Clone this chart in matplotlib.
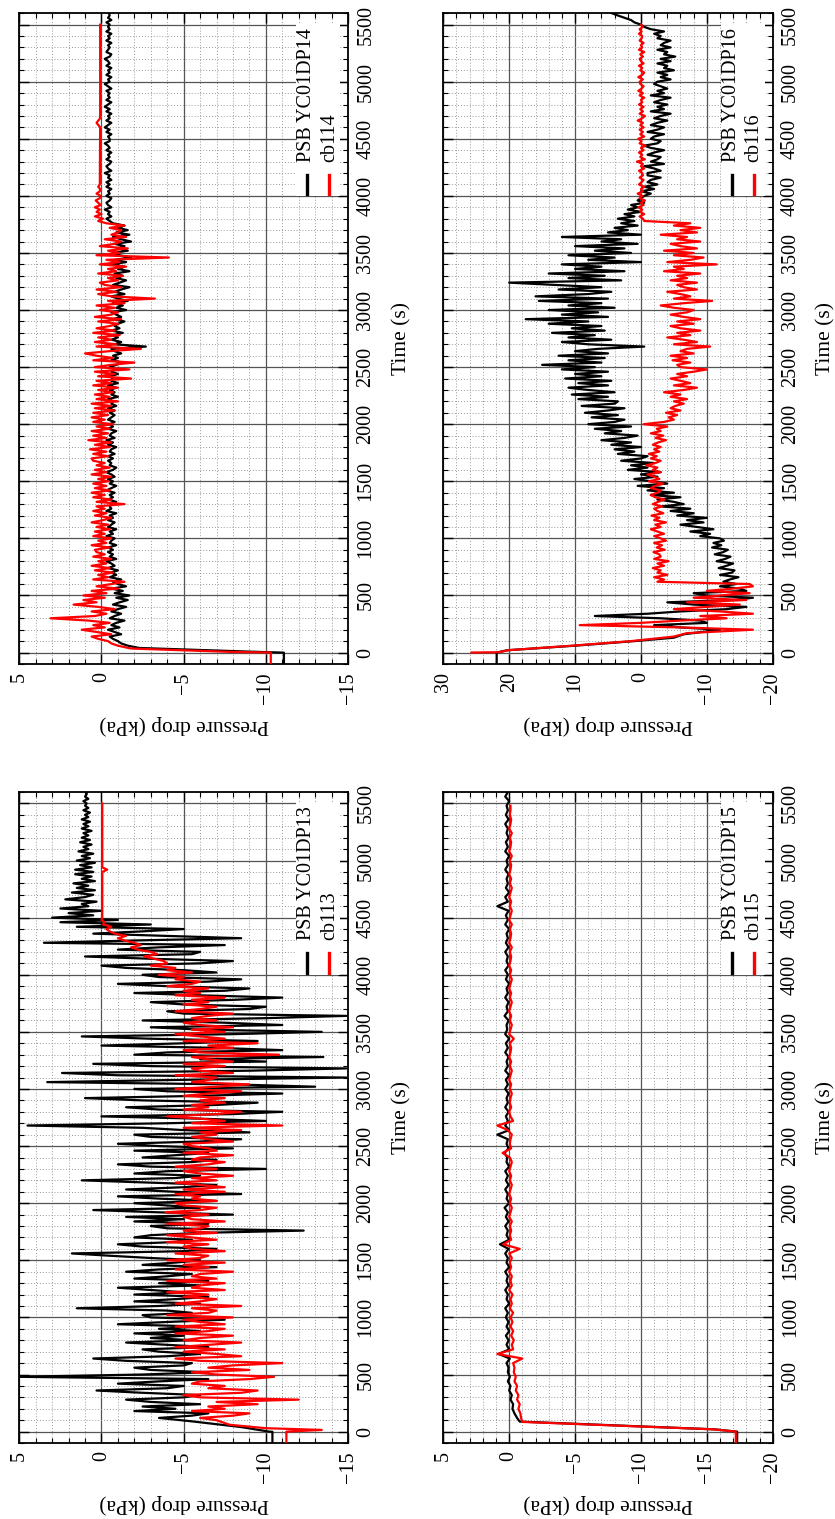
import matplotlib.pyplot as plt
import numpy as np
from matplotlib.patches import Rectangle
from matplotlib.ticker import MultipleLocator

plt.rcParams['font.family'] = ['Liberation Serif', 'DejaVu Serif']

# ---------------------------------------------------------------------------
# Data (time in s, pressure drop in kPa).
# Each trace = explicit head points + body sampled at a fixed step (+ tail)
# ---------------------------------------------------------------------------
time_ticks = [0, 500, 1000, 1500, 2000, 2500, 3000, 3500, 4000, 4500, 5000, 5500]

# --- YC01DP14 / cb114 (body every 20 s) ------------------------------------
dp14_head_t = [-100, -1, 0, 8, 40, 60, 80]
dp14_head_p = [-11.1, -11.1, -10.9, -9.0, -2.3, -1.6, -1.2]
dp14_body_start, dp14_step = 100, 20
dp14_body = [
    -1.0, -0.7, -0.5, -1.2, -0.8, -0.4, -1.1, -0.6, -0.9, -1.4, -0.5, -0.8, -1.2, -0.6, -1.0, -1.5, -0.7, -1.1, -1.6, -0.9,
    -1.7, -0.8, -1.3, -0.6, -1.5, -1.0, -0.7, -1.2, -0.5, -0.9, -0.6, -1.0, -0.4, -0.8, -0.6, -0.3, -0.9, -0.5, -0.7, -0.4,
    -0.7, -0.4, -0.9, -0.5, -0.6, -0.8, -0.3, -0.7, -0.5, -0.9, -0.4, -0.6, -0.8, -0.4, -0.7, -0.5, -0.9, -0.3, -0.6, -0.5,
    -0.6, -0.9, -0.4, -0.7, -0.5, -0.8, -0.3, -0.6, -0.9, -0.5, -0.7, -0.4, -0.8, -0.6, -0.3, -0.7, -0.9, -0.5, -0.6, -0.4,
    -0.7, -0.4, -0.8, -0.5, -0.6, -0.9, -0.4, -0.7, -0.3, -0.8, -0.5, -0.6, -0.9, -0.4, -0.7, -0.5, -0.8, -0.4, -0.6, -0.8,
    -0.5, -0.8, -0.4, -0.9, -0.6, -0.7, -0.4, -1.0, -0.6, -0.8, -0.5, -0.9, -0.4, -1.0, -0.6, -0.7, -0.5, -1.0, -0.6, -0.8,
    -0.5, -0.9, -1.3, -0.6, -1.0, -0.7, -1.2, -0.8, -0.6, -2.7, -0.8, -1.2, -0.6, -1.0, -0.7, -1.3, -0.6, -1.1, -0.8, -1.0,
    -1.4, -0.7, -1.2, -0.9, -0.6, -1.5, -0.9, -1.3, -0.7, -1.6, -1.0, -0.6, -1.4, -0.8, -1.2, -1.7, -0.7, -1.1, -1.5, -0.9,
    -1.3, -0.8, -1.7, -1.0, -1.4, -0.6, -1.5, -0.8, -1.8, -1.1, -0.7, -1.6, -1.0, -1.4, -0.8, -1.8, -1.2, -0.7, -1.7, -0.9,
    -1.6, -1.0, -1.4, -0.7, -0.5, -0.3, -0.6, -0.4, -0.5, -0.2, -0.6, -0.4, -0.3, -0.5, -0.6, -0.3, -0.5, -0.4, -0.6, -0.3,
    -0.5, -0.3, -0.6, -0.4, -0.5, -0.2, -0.6, -0.4, -0.3, -0.5, -0.6, -0.3, -0.5, -0.4, -0.6, -0.3, -0.5, -0.4, -0.2, -0.5,
    -0.5, -0.4, -0.6, -0.3, -0.5, -0.2, -0.4, -0.6, -0.3, -0.5, -0.4, -0.6, -0.3, -0.5, -0.2, -0.4, -0.6, -0.3, -0.5, -0.4,
    -0.5, -0.3, -0.6, -0.4, -0.2, -0.5, -0.4, -0.6, -0.3, -0.5, -0.4, -0.6, -0.3, -0.5, -0.4, -0.2, -0.5, -0.6, -0.3, -0.4,
    -0.5, -0.4, -0.6, -0.3, -0.5, -0.4, -0.6, -0.3, -0.5, -0.4, -0.5, -0.3, -0.6, -0.4, -0.5, -0.45,
]

cb114_head_t = [-100, -1, 0, 5, 35, 60, 80]
cb114_head_p = [-10.3, -10.3, -10.3, -8.0, -1.8, -1.0, -0.6]
cb114_body_start, cb114_step = 100, 20
cb114_body = [
    -0.4, 0.2, 0.6, -0.6, 0.3, 1.2, -0.2, 0.5, -0.5, 0.8, 3.1, 0.4, -0.3, 0.6, -0.8, 0.2, 1.7, 0.3, 1.1, -0.2,
    1.1, -0.3, 0.6, -1.0, 0.3, -0.6, -1.4, 0.5, -0.4, 0.2, -0.7, 0.4, -0.5, 0.6, -0.3, 0.2, -0.6, 0.5, -0.2, 0.3,
    0.4, -0.5, 0.6, -0.3, 0.2, -0.6, 0.5, -0.2, 0.4, -0.5, 0.3, -0.4, 0.6, -0.1, -0.6, 0.4, -0.3, 0.5, -0.2, 0.3,
    -1.4, 0.3, -0.6, 0.5, -0.2, 0.6, -0.5, 0.4, -0.3, 0.5, -0.4, 0.2, -0.6, 0.6, -0.3, 0.4, -0.5, 0.3, -0.2, 0.5,
    0.6, -0.4, 0.5, -0.3, 0.7, -0.5, 0.4, -0.6, 0.8, -0.3, 0.5, -0.4, 0.6, -0.5, 0.3, -0.7, 0.5, -0.2, 0.6, -0.4,
    0.5, -0.8, 0.4, -0.6, 0.6, -1.0, 0.3, -0.5, 0.4, -0.7, 0.2, -1.0, 0.5, -0.6, 0.3, -1.8, 0.2, -0.8, 0.4, -1.7,
    0.4, -0.6, -2.0, 0.5, -0.7, 0.3, 1.0, -0.5, -2.4, 0.3, -0.9, 0.4, -0.6, 0.2, -1.1, 0.5, -0.8, 0.3, -0.5, -1.0,
    0.2, -1.2, 0.4, -0.6, -1.0, 0.1, -0.8, 0.3, -1.4, -0.4, -3.25, -0.6, 0.2, -0.9, 0.3, -1.2, -0.2, 0.1, -1.0, -0.4,
    -1.3, 0.2, -0.9, -0.4, -1.5, 0.1, -1.1, -0.3, -4.1, 0.3, -1.1, -0.4, -1.6, 0.1, -0.8, -1.2, -0.2, -1.5, -0.6, -1.0,
    -1.2, -0.5, -1.4, -0.3, 0.2, -0.1, 0.4, 0.0, 0.3, 0.1, 0.4, 0.05, 0.2, 0.35, 0.1, 0.05, 0.3, 0.1, 0.08, 0.2,
]
cb114_tail_t = [4100, 4600, 4640, 4680, 5500]
cb114_tail_p = [0.1, 0.08, 0.3, 0.08, 0.08]

# --- YC01DP16 / cb116 (body every 20 s) ------------------------------------
dp16_head_t = [-100, 0, 20, 60, 100, 130, 160]
dp16_head_p = [21.9, 21.9, 20.3, 10.0, 1.0, -5.0, -6.5]
dp16_body_start, dp16_step = 200, 20
dp16_body = [
    -12.0, -6.0, -2.0, -10.0, -9.0, -3.0, 7.0, -1.0, -6.0, -13.0, -16.0, -8.0, -4.0, -14.0, -17.0, -10.0, -8.0, -16.0, -15.0, -12.0,
    -14.5, -12.5, -13.5, -14.8, -12.0, -13.8, -14.2, -11.8, -13.0, -14.0, -11.5, -12.8, -13.6, -11.2, -12.5, -13.2, -10.8, -12.2, -11.0, -12.6,
    -12.0, -9.0, -10.5, -7.5, -11.0, -8.5, -6.0, -9.5, -7.0, -10.0, -5.5, -8.0, -4.5, -7.5, -3.0, -6.5, -5.0, -2.5, -6.0, -1.5,
    -5.0, -1.0, -3.5, 0.5, -4.0, -1.5, 1.0, -2.5, 0.0, -3.0, 2.0, -1.0, 1.5, -2.0, 3.0, 0.0, -1.0, 3.5, 1.0, 4.0,
    0.0, 4.5, 1.5, 6.0, 2.5, 0.5, 5.5, 3.0, 7.0, 1.5, 8.0, 4.0, 2.5, 7.5, 3.5, 8.5, 5.0, 2.5, 9.0, 4.0,
    3.5, 9.5, 5.0, 10.5, 4.0, 8.0, 11.0, 5.0, 9.5, 4.5, 11.5, 6.0, 10.0, 5.0, 12.0, 7.0, 15.0, 6.0, 11.0, 5.5,
    12.5, 5.0, 10.0, 6.5, -0.5, 8.0, 12.0, 4.5, 11.0, 7.0, 13.5, 5.5, 10.5, 6.0, 14.0, 8.0, 17.5, 5.0, 12.0, 6.5,
    14.0, 4.0, 11.0, 6.0, 15.5, 5.0, 16.0, 8.0, 4.5, 12.5, 6.0, 13.0, 20.0, 3.0, 11.0, 5.5, 14.0, 2.5, 10.0, 6.0,
    12.0, 0.0, 8.0, 4.0, 11.0, 1.5, 7.0, 2.5, 10.0, 0.5, 6.0, 3.0, 12.0, 0.0, 5.0, 2.0, 4.0, 0.5, 3.0, 1.0,
    3.5, 1.0, 2.5, 0.0, 2.0, 0.5, 1.5, -0.5, 0.5, 0.0, -0.5, -1.5, 0.0, -2.0, -0.5, -2.5, -1.0, -1.5, -3.0, -1.0,
    -1.0, -3.0, -2.0, -0.5, -3.5, -1.5, -2.5, -3.0, -1.0, -2.0, -3.5, -1.5, -0.5, -2.5, -3.0, -1.5, -2.0, -3.5, -1.0, -2.5,
    -3.5, -1.5, -2.5, -4.0, -2.0, -3.0, -4.5, -1.5, -3.5, -2.5, -4.0, -2.0, -3.0, -4.5, -1.5, -3.5, -2.5, -4.0, -3.0, -2.0,
    -2.5, -4.5, -3.0, -4.0, -2.5, -5.0, -3.5, -4.0, -2.5, -4.5, -3.0, -5.2, -3.5, -4.0, -2.5, -4.5, -3.0, -3.5, -4.5, -2.5,
    -3.0, -2.0, -3.5, -1.5, -0.5, 0.0, 1.0, 1.5, 2.5, 3.5, 4.4,
]

cb116_head_t = [0, 3, 20, 60, 100, 140, 170]
cb116_head_p = [25.7, 21.5, 20.2, 10.5, 1.5, -5.0, -7.0]
cb116_body_start, cb116_step = 200, 20
cb116_body = [
    -17.0, -6.0, 9.3, 0.0, -6.0, -13.0, -9.0, -17.0, -12.0, -5.0, -10.0, -15.0, -7.0, -16.0, -8.0, -12.0, -16.5, -10.0, -14.0, -17.0,
    -16.5, -2.5, -3.5, -2.0, -4.0, -2.5, -3.0, -1.8, -3.5, -2.5, -4.2, -2.0, -3.0, -2.8, -1.9, -3.6, -2.4, -3.2, -2.0, -3.8,
    -3.0, -2.0, -3.5, -2.5, -1.5, -3.0, -2.2, -3.8, -2.0, -2.8, -1.6, -3.4, -2.5, -2.0, -3.2, -1.8, -2.6, -3.6, -2.2, -1.5,
    -2.5, -3.0, -1.5, -2.2, -3.4, -1.2, -2.8, -2.0, -1.0, -3.0, -1.8, -2.5, -0.8, -2.2, -3.0, -1.5, -2.4, -1.2, -2.8, -2.0,
    -3.0, -1.8, -2.6, -3.8, -2.2, -3.4, -1.5, -3.0, -2.4, -4.0, -0.4, -3.5, -5.0, -4.2, -5.5, -3.8, -6.0, -4.5, -5.2, -6.5,
    -5.0, -7.0, -4.5, -6.0, -3.5, -6.5, -8.5, -5.0, -7.5, -6.0, -4.5, -7.0, -5.5, -8.0, -10.0, -6.0, -5.5, -7.5, -4.8, -7.0,
    -4.5, -8.0, -6.0, -7.0, -10.5, -5.0, -8.5, -6.5, -4.0, -7.5, -5.5, -9.0, -6.0, -4.5, -8.0, -5.5, -9.0, -6.5, -4.5, -7.0,
    -8.0, -5.0, -3.0, -6.5, -10.8, -5.0, -7.5, -6.0, -4.0, -8.5, -6.5, -5.5, -8.5, -4.5, -7.0, -5.5, -9.0, -3.5, -6.5, -5.0,
    -11.5, -4.0, -7.5, -9.5, -5.0, -8.0, -3.5, -8.5, -6.0, -4.5, -9.0, -5.5, -7.0, -3.0, -8.5, -6.0, -9.0, -5.0, -7.5, -0.5,
    -0.3, 0.2, -0.5, 0.1, -0.2, 0.4, -0.4, 0.0, -0.6, 0.2, -0.2, 0.5, -0.3, 0.0, -0.5, 0.3, -0.1, -0.4, 0.2, -0.3,
    -0.2, 0.3, -0.5, 0.0, -0.3, 0.6, -0.6, 0.1, -0.2, 0.3, -0.4, 0.0, -0.7, 0.2, -0.1, 0.4, -0.5, 0.1, -0.3, 0.2,
    -0.4, 0.1, -0.3, 0.5, -0.2, -0.6, 0.2, -0.3, 0.1, -0.4, 0.3, -0.2, 0.0, -0.5, 0.2, -0.3, 0.4, -0.1, -0.4, 0.1,
    0.2, -0.3, 0.4, -0.2, -0.5, 0.1, -0.2, 0.3, -0.4, 0.0, 0.2, -0.3, 0.1, -0.5, 0.3, -0.2, 0.0, -0.4, 0.2, -0.1,
    -0.2, 0.3, -0.1, 0.2, -0.3, 0.0,
]

# --- YC01DP13 / cb113 (body every 20 s) ------------------------------------
dp13_head_t = [-100, -1, 0, 40, 90]
dp13_head_p = [-10.4, -10.4, -10.2, -8.5, -5.5]
dp13_body_start, dp13_step = 120, 20
dp13_body = [
    -3.5, -5.5, -6.5, -2.0, -4.5, -2.5, -6.0, -3.0, -1.5, -5.0, -6.0, -2.5, 0.3, -4.0, -5.0, -1.0, -3.5, -6.5, 5.0, -2.5,
    -6.5, -3.0, -2.0, -5.0, -5.5, -1.5, 0.5, -4.0, -6.0, -3.5, -2.5, -6.5, -4.0, -1.5, -5.5, -3.0, -5.0, -2.0, -6.0, -3.5,
    -6.0, -1.0, -4.0, -7.5, -3.0, -2.5, -5.5, -4.0, 1.5, -3.5, -6.0, -2.0, -4.5, -6.5, -2.0, -5.0, -3.0, -1.0, -6.0, -3.5,
    -6.5, -2.0, -4.0, -5.5, -1.5, -3.5, -7.0, -2.5, -4.5, -6.0, -3.0, -0.5, 1.8, -5.0, -7.0, -2.5, -1.0, -4.5, -5.5, -2.0,
    -3.0, -6.0, -12.3, -4.0, -3.0, -6.5, -2.0, -5.0, -1.5, -8.0, -3.5, 0.5, -6.0, -4.0, -2.0, -7.0, -3.5, -1.0, -8.5, -4.5,
    -1.5, -5.0, -7.0, -3.0, 1.2, -4.5, -6.0, -2.0, -4.0, -10.0, -3.0, -1.0, -5.5, -7.0, -2.5, -4.5, -6.5, -2.0, -8.0, -3.5,
    -1.0, -6.0, -8.5, -3.0, -2.0, -9.0, -5.0, -2.5, 4.5, -4.0, -10.0, -6.0, 0.0, -8.0, -11.0, -3.5, -1.5, -7.0, -9.5, -2.5,
    1.0, -6.0, -11.0, -4.0, -2.0, -13.0, -8.0, 3.3, -5.0, -14.9, -1.0, 2.4, -9.0, -14.9, -3.0, 0.5, -10.0, -6.0, -13.5, -2.0,
    -4.0, -11.0, -7.0, 0.0, -5.0, -9.5, -3.0, 1.2, -8.0, -13.4, -6.0, -3.0, -11.0, -7.5, -2.5, -10.0, -14.9, -5.0, -4.0, -9.0,
    -10.0, -5.0, -3.0, -8.0, -11.0, -6.0, -2.0, -7.5, -9.0, -4.0, -1.0, -6.5, -8.5, -3.5, -2.5, -7.0, -5.0, -1.5, 0.0, -6.0,
    -8.0, -3.0, 1.0, -5.5, -6.0, -1.0, -3.5, -7.5, 3.5, -2.0, -8.5, -4.0, 0.5, -2.5, -5.0, 1.5, -3.0, 2.5, -1.0, 3.0,
    0.5, 2.0, 0.0, 2.5, 0.8, 1.2, 0.3, 2.2, 1.0, 0.5, 1.8, 0.4, 1.5, 0.8, 1.7, 0.4, 1.2, 0.6, 1.6, 0.5,
    1.6, 0.6, 1.3, 0.4, 1.5, 0.7, 1.2, 0.5, 1.4, 0.8, 1.1, 0.6, 1.3, 0.7, 1.2, 0.8, 1.1, 0.6, 1.2, 0.8,
    1.1, 0.7, 1.2, 0.8, 1.0, 0.7, 1.1, 0.8, 1.0, 0.9, 1.1, 0.8, 1.0, 0.9, 0.9,
]

cb113_head_t = [-100, -1, 0, 15, 30, 60, 100]
cb113_head_p = [-11.25, -11.25, -11.25, -13.4, -10.0, -7.8, -7.0]
cb113_body_start, cb113_step = 120, 20
cb113_body = [
    -6.0, -8.0, -9.0, -5.5, -7.5, -6.5, -9.5, -7.0, -12.0, -6.0, -5.0, -8.5, -9.5, -6.5, -7.5, -5.5, -6.0, -9.0, -10.5, -7.0,
    -5.5, -9.0, -6.5, -8.0, -11.0, -6.0, -4.5, -8.5, -7.0, -5.0, -7.5, -4.5, -6.5, -8.5, -5.0, -6.0, -8.0, -4.5, -6.5, -7.5,
    -4.5, -7.5, -6.0, -5.0, -8.0, -4.0, -6.5, -7.0, -5.5, -8.5, -4.5, -6.0, -7.0, -5.0, -6.5, -4.0, -7.5, -5.5, -6.0, -7.5,
    -4.0, -7.0, -5.5, -6.0, -8.0, -4.5, -6.5, -5.0, -7.5, -4.0, -6.0, -6.5, -4.5, -7.5, -5.5, -5.0, -6.5, -4.0, -7.0, -5.5,
    -4.0, -7.0, -5.0, -6.0, -6.5, -4.0, -7.5, -5.5, -5.0, -6.5, -3.9, -6.0, -7.0, -5.0, -4.5, -7.0, -5.5, -6.0, -4.5, -7.5,
    -5.0, -7.5, -6.0, -4.5, -7.0, -5.5, -8.0, -6.0, -5.0, -7.0, -4.5, -6.5, -7.5, -5.5, -6.0, -8.0, -5.0, -7.0, -6.5, -5.5,
    -5.0, -8.0, -6.5, -5.5, -7.0, -6.0, -8.5, -5.0, -11.0, -5.5, -7.5, -6.0, -4.0, -7.0, -8.5, -5.0, -6.5, -5.5, -7.5, -6.0,
    -7.5, -5.0, -6.5, -8.5, -4.5, -7.0, -9.0, -5.5, -6.5, -7.0, -4.5, -8.0, -6.0, -5.5, -7.5, -5.0, -8.0, -6.5, -5.5, -10.8,
    -6.0, -5.0, -8.0, -6.5, -9.5, -5.0, -7.5, -6.0, -4.5, -7.5, -5.5, -8.0, -6.0, -5.0, -7.0, -5.5, -6.5, -8.0, -4.5, -6.0,
    -7.0, -5.0, -6.5, -5.5, -7.5, -4.5, -6.0, -5.0, -6.5, -4.0, -5.5, -6.0, -4.5, -5.0, -3.5, -5.5, -4.0, -4.5, -3.0, -4.0,
    -3.8, -3.2, -2.6, -3.4, -3.0, -2.2, -1.8, -2.4, -2.0, -1.4, -1.0, -1.5, -0.8, -0.5, -0.3, -0.6, -0.1, -0.2, 0.0, -0.05,
]
cb113_tail_t = [4520, 4900, 4920, 4940, 5500]
cb113_tail_p = [-0.05, -0.05, -0.35, -0.05, -0.05]

# --- YC01DP15 / cb115 (body every 40 s) ------------------------------------
dp15_head_t = [-100, -1, 0, 20, 88, 120]
dp15_head_p = [-17.3, -17.3, -17.3, -15.6, -0.8, -0.6]
dp15_body_start, dp15_step = 160, 40
dp15_body = [
    -0.4, -0.25, -0.3, -0.1, -0.2, 0.0, -0.1, 0.1, -0.05, 0.1,
    0.05, 0.2, -0.05, 0.8, 0.0, 0.2, 0.05, 0.25, 0.0, 0.2,
    0.05, 0.25, 0.1, 0.3, 0.0, 0.2, 0.1, 0.3, 0.05, 0.2,
    0.1, 0.3, 0.0, 0.2, 0.1, 0.3, 0.05, 0.7, 0.0, 0.2,
    0.1, 0.3, 0.05, 0.25, 0.1, 0.35, 0.0, 0.2, 0.1, 0.3,
    0.05, 0.25, 0.1, 0.3, 0.0, 0.2, 0.15, 0.35, 0.05, 0.2,
    0.1, 0.9, 0.0, 0.3, 0.1, 0.25, 0.05, 0.3, 0.1, 0.2,
    0.05, 0.3, 0.1, 0.25, 0.0, 0.3, 0.1, 0.2, 0.05, 0.3,
    0.1, 0.25, 0.0, 0.3, 0.15, 0.2, 0.05, 0.35, 0.1, 0.2,
    0.05, 0.3, 0.1, 0.2, 0.0, 0.25, 0.1, 0.3, 0.05, 0.2,
    0.1, 0.3, 0.05, 0.25, 0.1, 0.2, 0.0, 0.3, 0.1, 0.25,
    0.05, 0.9, 0.1, 0.3, 0.0, 0.25, 0.1, 0.2, 0.05, 0.3,
    0.1, 0.2, 0.0, 0.3, 0.1, 0.25, 0.05, 0.2, 0.1, 0.3,
    0.05, 0.25, 0.1, 0.2, 0.0, 0.3, 0.1,
]

cb115_head_t = [-100, -1, 0, 20, 85, 120]
cb115_head_p = [-17.2, -17.2, -17.2, -15.5, -1.0, -0.9]
cb115_body_start, cb115_step = 160, 40
cb115_body = [
    -0.85, -0.7, -0.8, -0.6, -0.7, -0.5, -0.6, -0.4, -0.5, -0.35,
    -0.4, -0.3, -1.0, 0.9, -0.3, -0.2, -0.35, -0.15, -0.3, -0.1,
    -0.25, -0.1, -0.3, -0.05, -0.2, -0.1, -0.25, 0.0, -0.2, -0.1,
    -0.2, 0.0, -0.15, -0.05, -0.2, 0.0, -0.8, 0.45, -0.15, -0.05,
    -0.15, -0.05, -0.2, 0.0, -0.1, -0.2, -0.05, -0.15, 0.0, -0.1,
    -0.2, -0.05, -0.15, 0.0, -0.1, -0.2, -0.05, 0.5, -0.15, -0.05,
    -0.1, -0.2, 0.1, 0.9, -0.3, -0.1, 0.0, -0.15, -0.05, -0.1,
    -0.2, -0.05, -0.15, 0.0, -0.1, -0.2, -0.05, -0.15, 0.0, -0.1,
    -0.15, -0.05, -0.35, 0.0, -0.1, -0.2, -0.05, -0.15, 0.0, -0.1,
    -0.2, -0.05, -0.15, 0.0, -0.1, -0.2, -0.05, -0.15, 0.0, -0.1,
    -0.15, -0.05, -0.2, 0.0, -0.1, -0.15, -0.05, -0.2, 0.0, -0.1,
    -0.2, -0.05, -0.15, 0.0, -0.1, -0.2, -0.05, -0.15, 0.0, -0.1,
    -0.15, -0.05, -0.2, 0.0, -0.1, -0.15, -0.05, -0.2, 0.0, -0.1,
    -0.15, -0.05, -0.1, -0.1,
]


def trace(head_t, head_p, body_start, step, body, tail_t=(), tail_p=()):
    t_body = body_start + step * np.arange(len(body))
    t = np.concatenate([head_t, t_body, tail_t])
    p = np.concatenate([head_p, body, tail_p])
    return t, p


panels = [
    dict(rect=[0.0231, 0.5629, 0.3937, 0.4284], lim=(5, -15), major=5, minor=1,
         black=trace(dp14_head_t, dp14_head_p, dp14_body_start, dp14_step, dp14_body),
         red=trace(cb114_head_t, cb114_head_p, cb114_body_start, cb114_step, cb114_body,
                   cb114_tail_t, cb114_tail_p),
         names=("PSB YC01DP14", "cb114")),
    dict(rect=[0.5309, 0.5629, 0.3945, 0.4284], lim=(30, -20), major=10, minor=2,
         black=trace(dp16_head_t, dp16_head_p, dp16_body_start, dp16_step, dp16_body),
         red=trace(cb116_head_t, cb116_head_p, cb116_body_start, cb116_step, cb116_body),
         names=("PSB YC01DP16", "cb116")),
    dict(rect=[0.0231, 0.0500, 0.3937, 0.4286], lim=(5, -15), major=5, minor=1,
         black=trace(dp13_head_t, dp13_head_p, dp13_body_start, dp13_step, dp13_body),
         red=trace(cb113_head_t, cb113_head_p, cb113_body_start, cb113_step, cb113_body,
                   cb113_tail_t, cb113_tail_p),
         names=("PSB YC01DP13", "cb113")),
    dict(rect=[0.5309, 0.0500, 0.3945, 0.4286], lim=(5, -20), major=5, minor=1,
         black=trace(dp15_head_t, dp15_head_p, dp15_body_start, dp15_step, dp15_body),
         red=trace(cb115_head_t, cb115_head_p, cb115_body_start, cb115_step, cb115_body),
         names=("PSB YC01DP15", "cb115")),
]

fig = plt.figure(figsize=(8.35, 15.19), dpi=100)

for pan in panels:
    ax = fig.add_axes(pan["rect"])
    # rotated layout: pressure runs horizontally (inverted), time runs upward
    tb, pb = pan["black"]
    tr, pr = pan["red"]
    ax.plot(pb, tb, color="black", lw=1.6, zorder=3)
    ax.plot(pr, tr, color="#ff0000", lw=1.6, zorder=4)

    hi, lo = pan["lim"]
    ax.set_xlim(hi, lo)
    ax.set_ylim(-100, 5600)

    pticks = list(range(hi, lo - 1, -pan["major"]))
    ax.set_xticks(pticks, [str(v).replace("-", "\u2212") for v in pticks],
                  rotation=90, ha="center", va="top", fontsize=14.5)
    ax.xaxis.set_minor_locator(MultipleLocator(pan["minor"]))
    ax.yaxis.tick_right()
    ax.set_yticks(time_ticks, [str(v) for v in time_ticks],
                  rotation=90, ha="left", va="center", fontsize=14.5)
    ax.yaxis.set_minor_locator(MultipleLocator(100))
    ax.tick_params(which="both", direction="in", top=True, bottom=True,
                   left=True, right=True, labelleft=False)
    ax.tick_params(which="major", length=7, width=1.0, pad=6)
    ax.tick_params(which="minor", length=3.5, width=0.8)

    ax.grid(which="major", color="#555555", lw=0.9, ls="-")
    ax.grid(which="minor", color="#9a9a9a", lw=0.7, ls=(0, (1, 2)))
    ax.set_axisbelow(True)
    for sp in ax.spines.values():
        sp.set_linewidth(1.3)

    ax.yaxis.set_label_position("right")
    ax.set_ylabel("Time (s)", fontsize=15.5, labelpad=12)
    ax.set_xlabel("Pressure drop (kPa)", fontsize=15.5, rotation=180, labelpad=8)

    # key, drawn rotated like the rest of the figure
    ax.add_patch(Rectangle((0.842, 0.719), 0.134, 0.265, transform=ax.transAxes,
                           facecolor="white", edgecolor="none", zorder=6))
    for xpos, col, name in [(0.875, "black", pan["names"][0]),
                            (0.943, "#ff0000", pan["names"][1])]:
        ax.plot([xpos, xpos], [0.722, 0.752], transform=ax.transAxes,
                color=col, lw=2.4, zorder=7)
        ax.text(xpos, 0.772, name, transform=ax.transAxes, rotation=90,
                ha="center", va="bottom", fontsize=14.5, zorder=7)

fig.savefig("out.png", dpi=100)
